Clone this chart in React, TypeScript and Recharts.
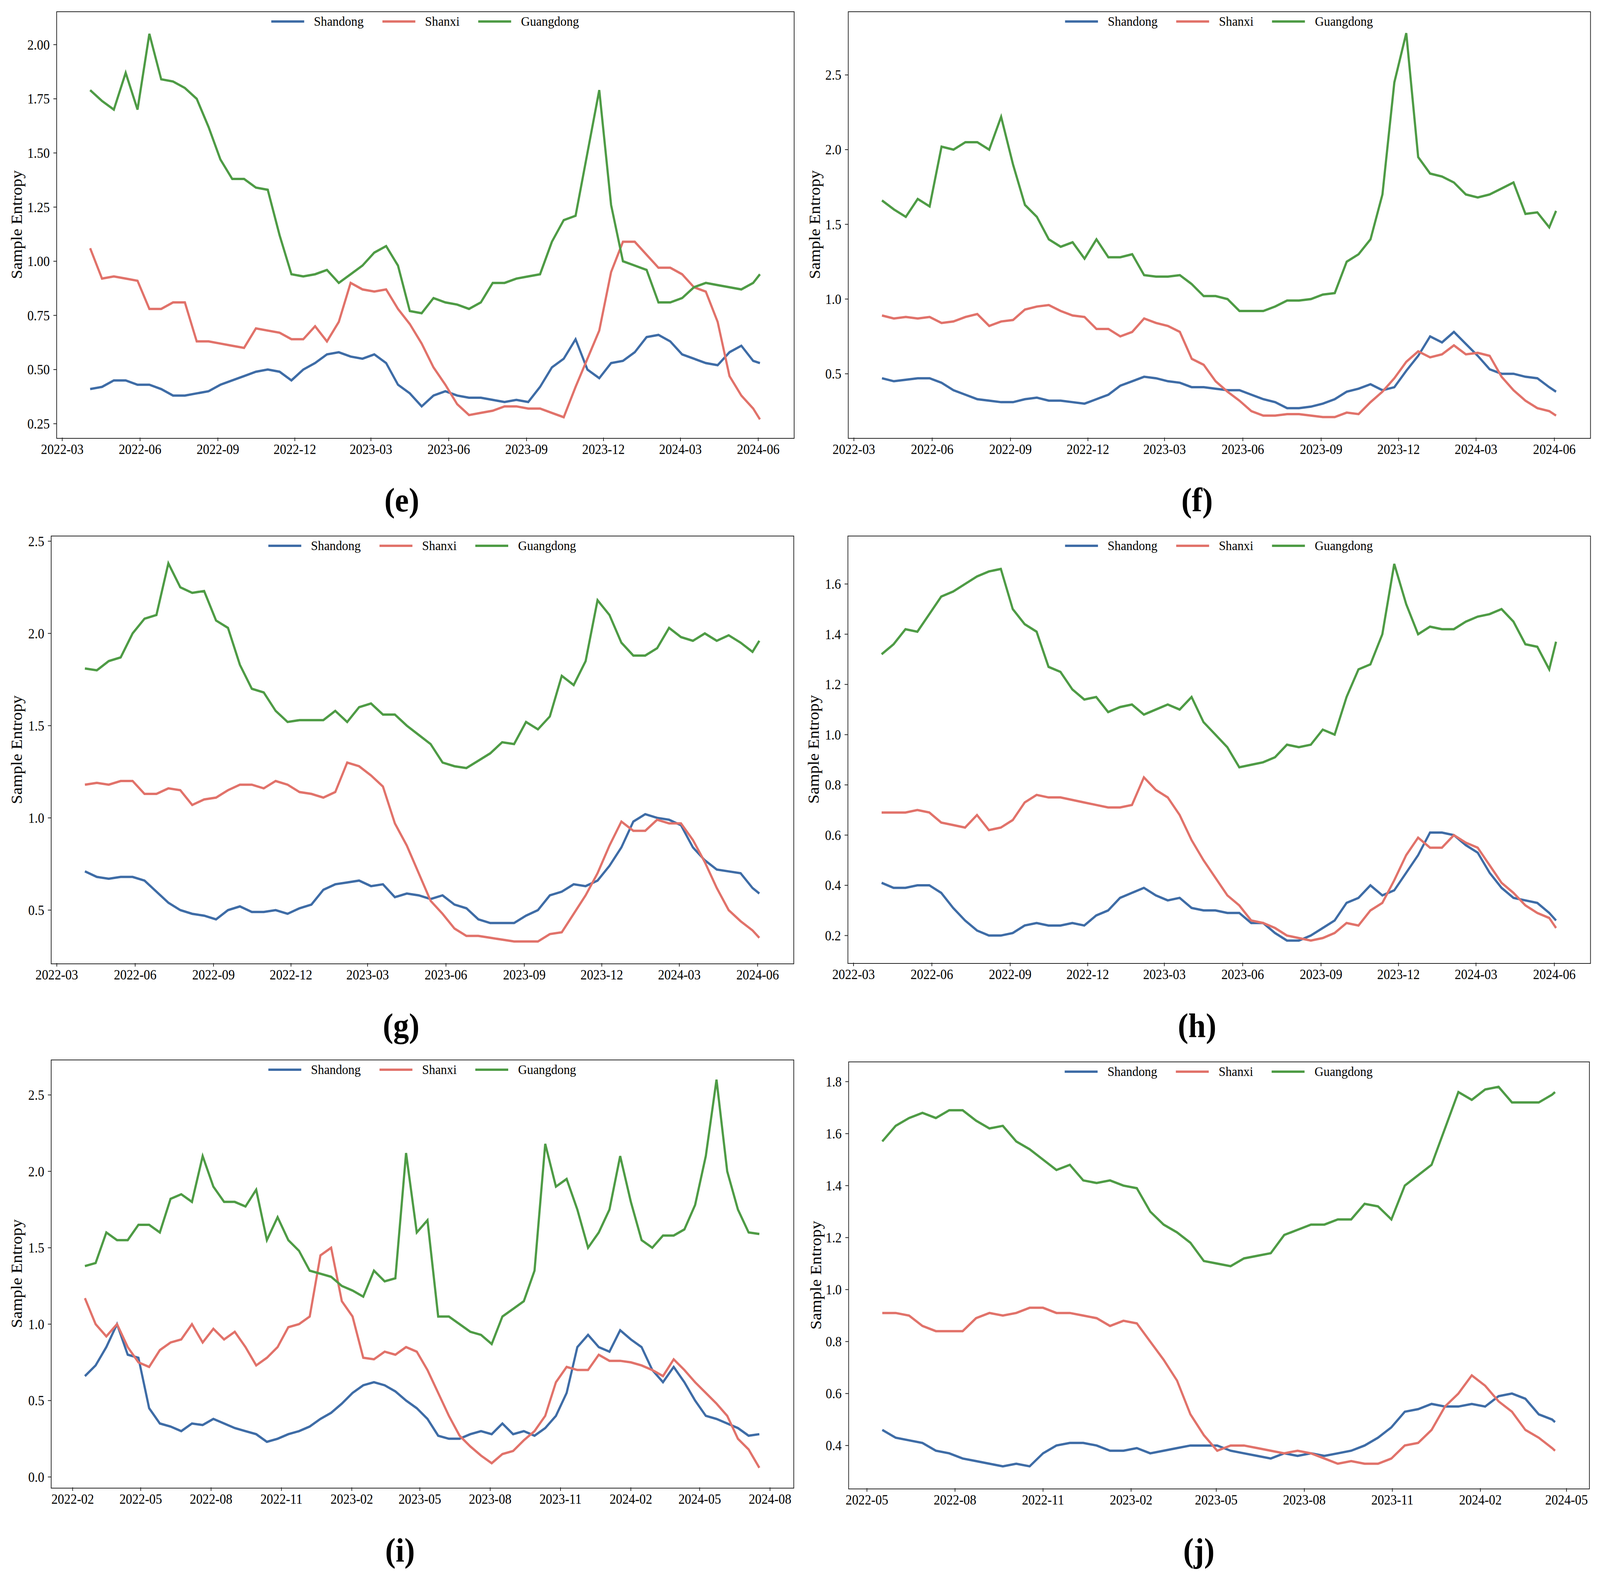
import React from 'react';
import { LineChart, Line, XAxis, YAxis } from 'recharts';

const SERIF = "'Liberation Serif', 'Times New Roman', serif";
const BLUE = '#3E6CA6';
const RED = '#E1726A';
const GREEN = '#4E9B45';
const INK = '#262626';
const DAY = 86400000;
const PAGE_W = 4376;
const PAGE_H = 4039;

// sampling dates (every 14 days, plus the last observation)
const gridDates = (start: string, step: number, count: number, last?: string) => {
  const t0 = Date.parse(start);
  const out: number[] = [];
  for (let k = 0; k < count; k++) out.push(t0 + k * step * DAY);
  if (last) out.push(Date.parse(last));
  return out;
};

const datesEH = gridDates('2022-04-03', 14, 57, '2024-06-03');
const datesI = gridDates('2022-02-17', 14, 64);
const datesJ = gridDates('2022-05-17', 14, 51, '2024-04-19');

const ticksEH = ['2022-03', '2022-06', '2022-09', '2022-12', '2023-03', '2023-06', '2023-09', '2023-12', '2024-03', '2024-06'];
const ticksI = ['2022-02', '2022-05', '2022-08', '2022-11', '2023-02', '2023-05', '2023-08', '2023-11', '2024-02', '2024-05', '2024-08'];
const ticksJ = ['2022-05', '2022-08', '2022-11', '2023-02', '2023-05', '2023-08', '2023-11', '2024-02', '2024-05'];

// (e)
const eShandong = [0.41, 0.42, 0.45, 0.45, 0.43, 0.43, 0.41, 0.38, 0.38, 0.39, 0.40, 0.43, 0.45, 0.47, 0.49, 0.50, 0.49, 0.45, 0.50, 0.53, 0.57, 0.58, 0.56, 0.55, 0.57, 0.53, 0.43, 0.39, 0.33, 0.38, 0.40, 0.38, 0.37, 0.37, 0.36, 0.35, 0.36, 0.35, 0.42, 0.51, 0.55, 0.64, 0.50, 0.46, 0.53, 0.54, 0.58, 0.65, 0.66, 0.63, 0.57, 0.55, 0.53, 0.52, 0.58, 0.61, 0.54, 0.53];
const eShanxi = [1.06, 0.92, 0.93, 0.92, 0.91, 0.78, 0.78, 0.81, 0.81, 0.63, 0.63, 0.62, 0.61, 0.60, 0.69, 0.68, 0.67, 0.64, 0.64, 0.70, 0.63, 0.72, 0.90, 0.87, 0.86, 0.87, 0.78, 0.71, 0.62, 0.51, 0.43, 0.34, 0.29, 0.30, 0.31, 0.33, 0.33, 0.32, 0.32, 0.30, 0.28, 0.42, 0.55, 0.68, 0.95, 1.09, 1.09, 1.03, 0.97, 0.97, 0.94, 0.88, 0.86, 0.72, 0.47, 0.38, 0.32, 0.27];
const eGuangdong = [1.79, 1.74, 1.70, 1.87, 1.70, 2.05, 1.84, 1.83, 1.80, 1.75, 1.62, 1.47, 1.38, 1.38, 1.34, 1.33, 1.12, 0.94, 0.93, 0.94, 0.96, 0.90, 0.94, 0.98, 1.04, 1.07, 0.98, 0.77, 0.76, 0.83, 0.81, 0.80, 0.78, 0.81, 0.90, 0.90, 0.92, 0.93, 0.94, 1.09, 1.19, 1.21, 1.50, 1.79, 1.26, 1.00, 0.98, 0.96, 0.81, 0.81, 0.83, 0.88, 0.90, 0.89, 0.88, 0.87, 0.90, 0.94];

// (f)
const fShandong = [0.47, 0.45, 0.46, 0.47, 0.47, 0.44, 0.39, 0.36, 0.33, 0.32, 0.31, 0.31, 0.33, 0.34, 0.32, 0.32, 0.31, 0.30, 0.33, 0.36, 0.42, 0.45, 0.48, 0.47, 0.45, 0.44, 0.41, 0.41, 0.40, 0.39, 0.39, 0.36, 0.33, 0.31, 0.27, 0.27, 0.28, 0.30, 0.33, 0.38, 0.40, 0.43, 0.39, 0.41, 0.52, 0.62, 0.75, 0.71, 0.78, 0.70, 0.62, 0.53, 0.50, 0.50, 0.48, 0.47, 0.41, 0.38];
const fShanxi = [0.89, 0.87, 0.88, 0.87, 0.88, 0.84, 0.85, 0.88, 0.90, 0.82, 0.85, 0.86, 0.93, 0.95, 0.96, 0.92, 0.89, 0.88, 0.80, 0.80, 0.75, 0.78, 0.87, 0.84, 0.82, 0.78, 0.60, 0.56, 0.45, 0.38, 0.32, 0.25, 0.22, 0.22, 0.23, 0.23, 0.22, 0.21, 0.21, 0.24, 0.23, 0.31, 0.38, 0.47, 0.58, 0.65, 0.61, 0.63, 0.69, 0.63, 0.64, 0.62, 0.48, 0.39, 0.32, 0.27, 0.25, 0.22];
const fGuangdong = [1.66, 1.60, 1.55, 1.67, 1.62, 2.02, 2.00, 2.05, 2.05, 2.00, 2.22, 1.90, 1.63, 1.55, 1.40, 1.35, 1.38, 1.27, 1.40, 1.28, 1.28, 1.30, 1.16, 1.15, 1.15, 1.16, 1.10, 1.02, 1.02, 1.00, 0.92, 0.92, 0.92, 0.95, 0.99, 0.99, 1.00, 1.03, 1.04, 1.25, 1.30, 1.40, 1.70, 2.45, 2.78, 1.95, 1.84, 1.82, 1.78, 1.70, 1.68, 1.70, 1.74, 1.78, 1.57, 1.58, 1.48, 1.59];

// (g)
const gShandong = [0.71, 0.68, 0.67, 0.68, 0.68, 0.66, 0.60, 0.54, 0.50, 0.48, 0.47, 0.45, 0.50, 0.52, 0.49, 0.49, 0.50, 0.48, 0.51, 0.53, 0.61, 0.64, 0.65, 0.66, 0.63, 0.64, 0.57, 0.59, 0.58, 0.56, 0.58, 0.53, 0.51, 0.45, 0.43, 0.43, 0.43, 0.47, 0.50, 0.58, 0.60, 0.64, 0.63, 0.66, 0.74, 0.84, 0.98, 1.02, 1.00, 0.99, 0.96, 0.84, 0.77, 0.72, 0.71, 0.70, 0.62, 0.59];
const gShanxi = [1.18, 1.19, 1.18, 1.20, 1.20, 1.13, 1.13, 1.16, 1.15, 1.07, 1.10, 1.11, 1.15, 1.18, 1.18, 1.16, 1.20, 1.18, 1.14, 1.13, 1.11, 1.14, 1.30, 1.28, 1.23, 1.17, 0.97, 0.85, 0.70, 0.55, 0.48, 0.40, 0.36, 0.36, 0.35, 0.34, 0.33, 0.33, 0.33, 0.37, 0.38, 0.48, 0.58, 0.70, 0.85, 0.98, 0.93, 0.93, 0.99, 0.97, 0.97, 0.88, 0.76, 0.62, 0.50, 0.44, 0.39, 0.35];
const gGuangdong = [1.81, 1.80, 1.85, 1.87, 2.00, 2.08, 2.10, 2.38, 2.25, 2.22, 2.23, 2.07, 2.03, 1.83, 1.70, 1.68, 1.58, 1.52, 1.53, 1.53, 1.53, 1.58, 1.52, 1.60, 1.62, 1.56, 1.56, 1.50, 1.45, 1.40, 1.30, 1.28, 1.27, 1.31, 1.35, 1.41, 1.40, 1.52, 1.48, 1.55, 1.77, 1.72, 1.85, 2.18, 2.10, 1.95, 1.88, 1.88, 1.92, 2.03, 1.98, 1.96, 2.00, 1.96, 1.99, 1.95, 1.90, 1.96];

// (h)
const hShandong = [0.41, 0.39, 0.39, 0.40, 0.40, 0.37, 0.31, 0.26, 0.22, 0.20, 0.20, 0.21, 0.24, 0.25, 0.24, 0.24, 0.25, 0.24, 0.28, 0.30, 0.35, 0.37, 0.39, 0.36, 0.34, 0.35, 0.31, 0.30, 0.30, 0.29, 0.29, 0.25, 0.25, 0.21, 0.18, 0.18, 0.20, 0.23, 0.26, 0.33, 0.35, 0.40, 0.36, 0.38, 0.45, 0.52, 0.61, 0.61, 0.60, 0.56, 0.53, 0.45, 0.39, 0.35, 0.34, 0.33, 0.29, 0.26];
const hShanxi = [0.69, 0.69, 0.69, 0.70, 0.69, 0.65, 0.64, 0.63, 0.68, 0.62, 0.63, 0.66, 0.73, 0.76, 0.75, 0.75, 0.74, 0.73, 0.72, 0.71, 0.71, 0.72, 0.83, 0.78, 0.75, 0.68, 0.58, 0.50, 0.43, 0.36, 0.32, 0.26, 0.25, 0.23, 0.20, 0.19, 0.18, 0.19, 0.21, 0.25, 0.24, 0.30, 0.33, 0.42, 0.52, 0.59, 0.55, 0.55, 0.60, 0.57, 0.55, 0.48, 0.41, 0.37, 0.32, 0.29, 0.27, 0.23];
const hGuangdong = [1.32, 1.36, 1.42, 1.41, 1.48, 1.55, 1.57, 1.60, 1.63, 1.65, 1.66, 1.50, 1.44, 1.41, 1.27, 1.25, 1.18, 1.14, 1.15, 1.09, 1.11, 1.12, 1.08, 1.10, 1.12, 1.10, 1.15, 1.05, 1.00, 0.95, 0.87, 0.88, 0.89, 0.91, 0.96, 0.95, 0.96, 1.02, 1.00, 1.15, 1.26, 1.28, 1.40, 1.68, 1.52, 1.40, 1.43, 1.42, 1.42, 1.45, 1.47, 1.48, 1.50, 1.45, 1.36, 1.35, 1.26, 1.37];

// (i)
const iShandong = [0.66, 0.73, 0.85, 1.00, 0.80, 0.78, 0.45, 0.35, 0.33, 0.30, 0.35, 0.34, 0.38, 0.35, 0.32, 0.30, 0.28, 0.23, 0.25, 0.28, 0.30, 0.33, 0.38, 0.42, 0.48, 0.55, 0.60, 0.62, 0.60, 0.56, 0.50, 0.45, 0.38, 0.27, 0.25, 0.25, 0.28, 0.30, 0.28, 0.35, 0.28, 0.30, 0.27, 0.32, 0.40, 0.55, 0.85, 0.93, 0.85, 0.82, 0.96, 0.90, 0.85, 0.70, 0.62, 0.72, 0.62, 0.50, 0.40, 0.38, 0.35, 0.32, 0.27, 0.28];
const iShanxi = [1.17, 1.00, 0.92, 1.00, 0.85, 0.75, 0.72, 0.83, 0.88, 0.90, 1.00, 0.88, 0.97, 0.90, 0.95, 0.85, 0.73, 0.78, 0.85, 0.98, 1.00, 1.05, 1.45, 1.50, 1.15, 1.05, 0.78, 0.77, 0.82, 0.80, 0.85, 0.82, 0.70, 0.55, 0.40, 0.27, 0.20, 0.14, 0.09, 0.15, 0.17, 0.24, 0.30, 0.40, 0.62, 0.72, 0.70, 0.70, 0.80, 0.76, 0.76, 0.75, 0.73, 0.70, 0.66, 0.77, 0.70, 0.62, 0.55, 0.48, 0.40, 0.25, 0.18, 0.06];
const iGuangdong = [1.38, 1.40, 1.60, 1.55, 1.55, 1.65, 1.65, 1.60, 1.82, 1.85, 1.80, 2.10, 1.90, 1.80, 1.80, 1.77, 1.88, 1.55, 1.70, 1.55, 1.48, 1.35, 1.33, 1.31, 1.25, 1.22, 1.18, 1.35, 1.28, 1.30, 2.12, 1.60, 1.68, 1.05, 1.05, 1.00, 0.95, 0.93, 0.87, 1.05, 1.10, 1.15, 1.35, 2.18, 1.90, 1.95, 1.75, 1.50, 1.60, 1.75, 2.10, 1.80, 1.55, 1.50, 1.58, 1.58, 1.62, 1.78, 2.10, 2.60, 2.00, 1.75, 1.60, 1.59];

// (j)
const jShandong = [0.46, 0.43, 0.42, 0.41, 0.38, 0.37, 0.35, 0.34, 0.33, 0.32, 0.33, 0.32, 0.37, 0.40, 0.41, 0.41, 0.40, 0.38, 0.38, 0.39, 0.37, 0.38, 0.39, 0.40, 0.40, 0.40, 0.38, 0.37, 0.36, 0.35, 0.37, 0.36, 0.37, 0.36, 0.37, 0.38, 0.40, 0.43, 0.47, 0.53, 0.54, 0.56, 0.55, 0.55, 0.56, 0.55, 0.59, 0.60, 0.58, 0.52, 0.50, 0.49];
const jShanxi = [0.91, 0.91, 0.90, 0.86, 0.84, 0.84, 0.84, 0.89, 0.91, 0.90, 0.91, 0.93, 0.93, 0.91, 0.91, 0.90, 0.89, 0.86, 0.88, 0.87, 0.80, 0.73, 0.65, 0.52, 0.44, 0.38, 0.40, 0.40, 0.39, 0.38, 0.37, 0.38, 0.37, 0.35, 0.33, 0.34, 0.33, 0.33, 0.35, 0.40, 0.41, 0.46, 0.55, 0.60, 0.67, 0.63, 0.57, 0.53, 0.46, 0.43, 0.39, 0.38];
const jGuangdong = [1.57, 1.63, 1.66, 1.68, 1.66, 1.69, 1.69, 1.65, 1.62, 1.63, 1.57, 1.54, 1.50, 1.46, 1.48, 1.42, 1.41, 1.42, 1.40, 1.39, 1.30, 1.25, 1.22, 1.18, 1.11, 1.10, 1.09, 1.12, 1.13, 1.14, 1.21, 1.23, 1.25, 1.25, 1.27, 1.27, 1.33, 1.32, 1.27, 1.40, 1.44, 1.48, 1.62, 1.76, 1.73, 1.77, 1.78, 1.72, 1.72, 1.72, 1.75, 1.76];

type Box = { x: number; y: number; w: number; h: number };
type PanelDef = {
  tag: string;
  box: Box;
  dates: number[];
  months: string[];
  sd: number[];
  sx: number[];
  gd: number[];
  yDomain: [number, number];
  yTicks: number[];
  dec: number;
  yLabelX: number;
  tagPos: [number, number];
};

const panels: PanelDef[] = [
  { tag: 'e', box: { x: 155, y: 30, w: 2015, h: 1090 }, dates: datesEH, months: ticksEH, sd: eShandong, sx: eShanxi, gd: eGuangdong,
    yDomain: [0.186, 2.152], yTicks: [0.25, 0.5, 0.75, 1.0, 1.25, 1.5, 1.75, 2.0], dec: 2, yLabelX: 45, tagPos: [1099, 1280] },
  { tag: 'f', box: { x: 2320, y: 30, w: 2028, h: 1090 }, dates: datesEH, months: ticksEH, sd: fShandong, sx: fShanxi, gd: fGuangdong,
    yDomain: [0.073, 2.923], yTicks: [0.5, 1.0, 1.5, 2.0, 2.5], dec: 1, yLabelX: 2228, tagPos: [3274, 1280] },
  { tag: 'g', box: { x: 140, y: 1372, w: 2029, h: 1093 }, dates: datesEH, months: ticksEH, sd: gShandong, sx: gShanxi, gd: gGuangdong,
    yDomain: [0.213, 2.528], yTicks: [0.5, 1.0, 1.5, 2.0, 2.5], dec: 1, yLabelX: 45, tagPos: [1097, 2625] },
  { tag: 'h', box: { x: 2319, y: 1372, w: 2029, h: 1092 }, dates: datesEH, months: ticksEH, sd: hShandong, sx: hShanxi, gd: hGuangdong,
    yDomain: [0.092, 1.791], yTicks: [0.2, 0.4, 0.6, 0.8, 1.0, 1.2, 1.4, 1.6], dec: 1, yLabelX: 2225, tagPos: [3274, 2625] },
  { tag: 'i', box: { x: 140, y: 2713, w: 2029, h: 1094 }, dates: datesI, months: ticksI, sd: iShandong, sx: iShanxi, gd: iGuangdong,
    yDomain: [-0.068, 2.729], yTicks: [0.0, 0.5, 1.0, 1.5, 2.0, 2.5], dec: 1, yLabelX: 45, tagPos: [1094, 3968] },
  { tag: 'j', box: { x: 2321, y: 2718, w: 2024, h: 1091 }, dates: datesJ, months: ticksJ, sd: jShandong, sx: jShanxi, gd: jGuangdong,
    yDomain: [0.236, 1.876], yTicks: [0.4, 0.6, 0.8, 1.0, 1.2, 1.4, 1.6, 1.8], dec: 1, yLabelX: 2231, tagPos: [3279, 3968] },
];

const Y_W = 200;
const X_H = 90;
const TOP = 10;
const RIGHT = 20;
const LINE_W = 6;

const fmtMonth = (t: number) => new Date(t).toISOString().slice(0, 7);

function Legend({ box }: { box: Box }) {
  const items = [
    { name: 'Shandong', color: BLUE },
    { name: 'Shanxi', color: RED },
    { name: 'Guangdong', color: GREEN },
  ];
  return (
    <div
      style={{
        position: 'absolute',
        left: box.x + box.w / 2,
        top: box.y + 25,
        transform: 'translate(-50%, -50%)',
        display: 'flex',
        alignItems: 'center',
        gap: 51,
        fontFamily: SERIF,
        fontSize: 34,
        whiteSpace: 'nowrap',
      }}
    >
      {items.map((it) => (
        <div key={it.name} style={{ display: 'flex', alignItems: 'center' }}>
          <span style={{ display: 'inline-block', width: 90, height: 6, background: it.color, marginRight: 27 }} />
          <span>{it.name}</span>
        </div>
      ))}
    </div>
  );
}

function Panel({ p }: { p: PanelDef }) {
  const data = p.dates.map((t, i) => ({ t, sd: p.sd[i], sx: p.sx[i], gd: p.gd[i] }));
  const t0 = p.dates[0];
  const t1 = p.dates[p.dates.length - 1];
  const pad = (t1 - t0) * 0.05;
  const xTicks = p.months.map((m) => Date.parse(m + '-01'));
  const { box } = p;
  const tickFont = { fontSize: 35, fontFamily: SERIF, fill: '#000' };
  const bw = 2.5;

  return (
    <>
      <div style={{ position: 'absolute', left: box.x - Y_W, top: box.y - TOP }}>
        <LineChart
          width={box.w + Y_W + RIGHT}
          height={box.h + TOP + X_H}
          data={data}
          margin={{ top: TOP, right: RIGHT, bottom: 0, left: 0 }}
        >
          <XAxis
            dataKey="t"
            type="number"
            domain={[t0 - pad, t1 + pad]}
            allowDataOverflow
            ticks={xTicks}
            tickFormatter={fmtMonth}
            height={X_H}
            tick={tickFont}
            tickSize={9}
            tickMargin={8}
            axisLine={false}
            tickLine={{ stroke: INK, strokeWidth: 2 }}
            interval={0}
          />
          <YAxis
            type="number"
            domain={p.yDomain}
            allowDataOverflow
            ticks={p.yTicks}
            tickFormatter={(v: number) => v.toFixed(p.dec)}
            width={Y_W}
            tick={tickFont}
            tickSize={9}
            tickMargin={10}
            axisLine={false}
            tickLine={{ stroke: INK, strokeWidth: 2 }}
            interval={0}
          />
          <Line type="linear" dataKey="sd" name="Shandong" stroke={BLUE} strokeWidth={LINE_W} dot={false} isAnimationActive={false} />
          <Line type="linear" dataKey="sx" name="Shanxi" stroke={RED} strokeWidth={LINE_W} dot={false} isAnimationActive={false} />
          <Line type="linear" dataKey="gd" name="Guangdong" stroke={GREEN} strokeWidth={LINE_W} dot={false} isAnimationActive={false} />
        </LineChart>
      </div>
      <div
        style={{
          position: 'absolute',
          left: box.x - bw / 2,
          top: box.y - bw / 2,
          width: box.w,
          height: box.h,
          border: `${bw}px solid ${INK}`,
          boxSizing: 'content-box',
          pointerEvents: 'none',
        }}
      />
      <div
        style={{
          position: 'absolute',
          left: p.yLabelX,
          top: box.y + box.h / 2,
          transform: 'translate(-50%, -50%) rotate(-90deg)',
          fontFamily: SERIF,
          fontSize: 43,
          whiteSpace: 'nowrap',
        }}
      >
        Sample Entropy
      </div>
      <Legend box={box} />
      <div
        style={{
          position: 'absolute',
          left: p.tagPos[0],
          top: p.tagPos[1],
          transform: 'translate(-50%, -50%)',
          fontFamily: SERIF,
          fontSize: 86,
          fontWeight: 'bold',
          whiteSpace: 'nowrap',
        }}
      >
        ({p.tag})
      </div>
    </>
  );
}

export default function App() {
  // the browser viewport can be narrower than the figure; fit the width
  const vw = typeof window !== 'undefined' ? window.innerWidth : PAGE_W;
  const sx = Math.min(1, vw / PAGE_W);
  return (
    <div style={{ position: 'absolute', left: 0, top: 0, width: vw, height: PAGE_H, overflow: 'hidden', background: '#fff' }}>
      <div
        style={{
          position: 'absolute',
          left: 0,
          top: 0,
          width: PAGE_W,
          height: PAGE_H,
          transform: `scale(${sx}, 1)`,
          transformOrigin: '0 0',
        }}
      >
        {panels.map((p) => (
          <Panel key={p.tag} p={p} />
        ))}
      </div>
    </div>
  );
}
